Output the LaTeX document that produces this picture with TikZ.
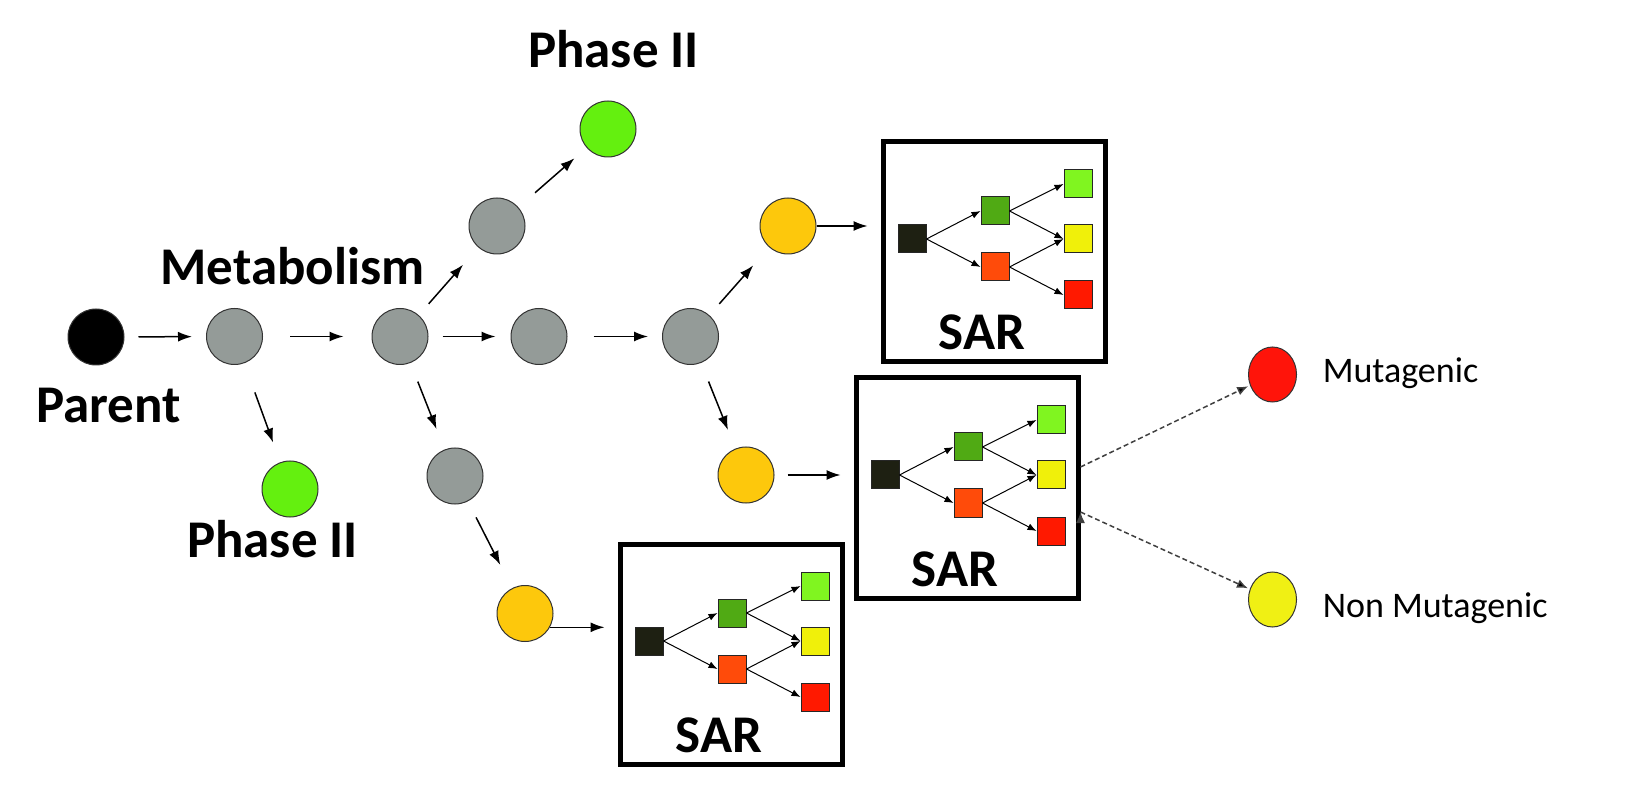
\documentclass[tikz,border=0pt]{standalone}
\usepackage{fontspec}
\setmainfont{Carlito}
\usepackage{xcolor}
\usepackage{tikz}
\usetikzlibrary{arrows.meta,automata,shapes.geometric}
\usetikzlibrary{calc}
\usetikzlibrary{positioning}

\definecolor{metgray}{RGB}{148,155,152}
\definecolor{phasegreen}{RGB}{100,240,15}
\definecolor{metorange}{RGB}{253,200,12}
\definecolor{sqblack}{RGB}{30,32,18}
\definecolor{sqgreen}{RGB}{80,170,20}
\definecolor{sqorange}{RGB}{255,75,10}
\definecolor{sqlime}{RGB}{128,245,32}
\definecolor{sqyellow}{RGB}{240,240,10}
\definecolor{sqred}{RGB}{255,25,0}
\definecolor{mutred}{RGB}{255,20,10}
\definecolor{nonyellow}{RGB}{240,240,20}

% one SAR panel, #2 = its top left corner
\newcommand{\sarblock}[2]{%
  \begin{scope}[shift={#2}]
    \node[sarbox] (#1) at (111,110) {};
    \node[sq, fill=sqblack]  (#1k) at (29,97) {};
    \node[sq, fill=sqgreen]  (#1g) at (112,69) {};
    \node[sq, fill=sqorange] (#1o) at (112,125) {};
    \node[sq, fill=sqlime]   (#1l) at (195,42) {};
    \node[sq, fill=sqyellow] (#1y) at (195,97) {};
    \node[sq, fill=sqred]    (#1r) at (195,153) {};
    \node[boldlbl] (#1t) at (99,208) {SAR};
    \path[->, line width=0.5pt, >={Latex[length=4.5pt,width=3.5pt]}]
      (#1k.east) edge (#1g.west)
      (#1k.east) edge (#1o.west)
      (#1g.east) edge (#1l.west)
      (#1g.east) edge (#1y.west)
      (#1o.east) edge (#1y.west)
      (#1o.east) edge (#1r.west);
  \end{scope}}

\begin{document}
\begin{tikzpicture}[-,>={Latex[length=7pt,width=5pt]},line width=0.75pt,
                    x=0.5pt,y=-0.5pt]
  \tikzstyle{every state}=[draw=black!80, line width=0.5pt, minimum size=28pt, inner sep=0pt]
  \tikzstyle{sarbox}=[draw=black, line width=2.5pt, minimum width=111pt, minimum height=110pt, inner sep=0pt]
  \tikzstyle{sq}=[draw=black!85, line width=0.5pt, minimum size=14pt, inner sep=0pt]
  \tikzstyle{boldlbl}=[font=\bfseries\fontsize{26.5pt}{30pt}\selectfont, inner sep=0pt, anchor=base]
  \tikzstyle{plainlbl}=[font=\fontsize{18pt}{21pt}\selectfont, inner sep=0pt, anchor=base west]
  \tikzstyle{outcome}=[ellipse, draw=black!80, line width=0.5pt, minimum width=24pt, minimum height=27.5pt, inner sep=0pt]
  \useasboundingbox (0,0) rectangle (1642,801);

  \node[state, fill=black]      (parent) at (96,337)      {};
  \node[state, fill=metgray]    (m1)     at (234.5,336.5) {};
  \node[state, fill=metgray]    (m2)     at (400,336.5)   {};
  \node[state, fill=metgray]    (m3)     at (497,226)     {};
  \node[state, fill=metgray]    (m4)     at (539,336.5)   {};
  \node[state, fill=metgray]    (m5)     at (690.5,336.5) {};
  \node[state, fill=metgray]    (m6)     at (455,476)     {};
  \node[state, fill=phasegreen] (p2a)    at (608,129)     {};
  \node[state, fill=phasegreen] (p2b)    at (290,489)     {};
  \node[state, fill=metorange]  (oa)     at (788,226)     {};
  \node[state, fill=metorange]  (ob)     at (746,475)     {};
  \node[state, fill=metorange]  (oc)     at (525,613.5)   {};

  \node[boldlbl] (lparent) at (108.5,423) {Parent};
  \node[boldlbl] (lmetab)  at (292.5,285) {Metabolism};
  \node[boldlbl] (lphaseA) at (613.5,68)  {Phase II};
  \node[boldlbl] (lphaseB) at (272.5,557) {Phase II};

  \sarblock{sarA}{(883,142)}
  \sarblock{sarB}{(856,378)}
  \sarblock{sarC}{(620,544)}

  \node[outcome, fill=mutred]    (mut) at (1272.5,374.5) {};
  \node[outcome, fill=nonyellow] (non) at (1272.5,599.5) {};
  \node[plainlbl] (lmut) at (1322,383) {Mutagenic};
  \node[plainlbl] (lnon) at (1322,617) {Non Mutagenic};

  \path[->]
    (parent) edge[shorten <=7pt, shorten >=7pt] (m1)
    (m1) edge[shorten <=13.5pt, shorten >=14pt] (m2)
    (m2) edge[shorten <=7pt, shorten >=7.5pt] (m4)
    (m4) edge[shorten <=13pt, shorten >=7pt] (m5)
    (m2) edge[shorten <=7.5pt, shorten >=11.5pt] (m3)
    (m3) edge[shorten <=11pt, shorten >=8pt] (p2a)
    (m1) edge[shorten <=15.5pt, shorten >=10.5pt] (p2b)
    (m2) edge[shorten <=10pt, shorten >=11pt] (m6)
    (m6) edge[shorten <=9pt, shorten >=13pt] (oc)
    (m5) edge[shorten <=7.5pt, shorten >=12pt] (oa)
    (m5) edge[shorten <=10pt, shorten >=10pt] (ob)
    (oa.east) edge[shorten >=6.5pt] (oa.east -| sarA.west)
    (ob.east) edge[shorten <=6.5pt, shorten >=6.5pt] (ob.east -| sarB.west)
    (oc.-29) edge[shorten >=6.5pt] (oc.-29 -| sarC.west);

  \path[->, draw=black!75, dash pattern=on 2.5pt off 1.5pt, >={Latex[length=5.5pt,width=4.5pt]}]
    ([yshift=10.5pt]sarB.east) edge[shorten >=1pt] (mut)
    ([yshift=-12pt]sarB.east) edge[shorten >=1pt] (non);
\end{tikzpicture}
\end{document}
